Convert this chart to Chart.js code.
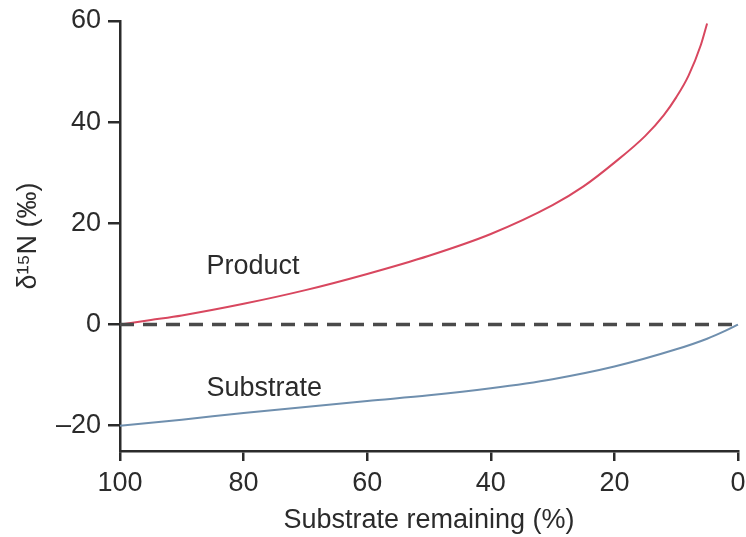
<!DOCTYPE html>
<html>
<head>
<meta charset="utf-8">
<script src="https://cdn.jsdelivr.net/npm/chart.js@4"></script>
<style>
  html, body { margin: 0; padding: 0; background: #fff; }
  #wrap { width: 746px; height: 537px; }
</style>
</head>
<body>
<div id="wrap"><canvas id="myChart"></canvas></div>
<script>
// data
const productX = [100, 95, 90, 80, 70, 60, 50, 40, 30, 25, 20, 15, 12, 10, 8, 6, 5];
const productY = [0, 0.9, 1.8, 4.1, 6.8, 10, 13.6, 17.9, 23.6, 27.3, 32, 37.3, 41.4, 44.9, 49.2, 55.3, 59.5];
const substrateX = [100, 90, 80, 70, 60, 50, 40, 30, 20, 10, 5, 2, 0];
const substrateY = [-20, -18.8, -17.5, -16.3, -15.1, -14, -12.6, -10.8, -8.3, -4.9, -2.8, -1.2, 0];
const baselineX = [100, 0];
const baselineY = [0, 0];
const xTicks = [100, 80, 60, 40, 20, 0];
const yTicks = [-20, 0, 20, 40, 60];
const curveLabels = ['Product', 'Substrate'];
const curveLabelX = [86, 86];
const curveLabelY = [10, -14.2];

const FONT = 'Liberation Sans, Arial, Helvetica, sans-serif';
const INK = '#2b2b2b';

function pts(xs, ys) {
  return xs.map((x, i) => ({ x: x, y: ys[i] }));
}

// plain text labels next to the curves
const curveText = {
  id: 'curveText',
  afterDatasetsDraw(chart) {
    const c = chart.ctx;
    c.save();
    c.font = '27px ' + FONT;
    c.fillStyle = INK;
    c.textAlign = 'left';
    c.textBaseline = 'alphabetic';
    curveLabels.forEach((t, i) => {
      c.fillText(t, chart.scales.x.getPixelForValue(curveLabelX[i]), chart.scales.y.getPixelForValue(curveLabelY[i]));
    });
    c.restore();
  }
};

const ctx = document.getElementById('myChart');
const myChart = new Chart(ctx, {
  type: 'scatter',
  data: {
    datasets: [
      {
        label: 'baseline',
        data: pts(baselineX, baselineY),
        showLine: true,
        borderColor: '#4a4a4a',
        borderWidth: 3.5,
        borderDash: [14, 9],
        pointRadius: 0,
        clip: false
      },
      {
        label: 'Product',
        data: pts(productX, productY),
        showLine: true,
        borderColor: '#d8475f',
        borderWidth: 2,
        pointRadius: 0,
        cubicInterpolationMode: 'monotone',
        clip: false
      },
      {
        label: 'Substrate',
        data: pts(substrateX, substrateY),
        showLine: true,
        borderColor: '#6f8fae',
        borderWidth: 2,
        pointRadius: 0,
        cubicInterpolationMode: 'monotone',
        clip: false
      }
    ]
  },
  options: {
    responsive: true,
    maintainAspectRatio: false,
    animation: false,
    layout: { padding: { top: 21, right: 8, left: 0, bottom: 0 } },
    plugins: {
      legend: { display: false },
      tooltip: { enabled: false }
    },
    scales: {
      x: {
        type: 'linear',
        reverse: true,
        min: 0,
        max: 100,
        afterBuildTicks: (axis) => { axis.ticks = xTicks.map(v => ({ value: v })); },
        afterFit: (axis) => { axis.height = 86; axis.paddingLeft = 0; axis.paddingRight = 0; },
        border: { display: true, color: INK, width: 2.5 },
        grid: { drawOnChartArea: false, drawTicks: true, tickLength: 10, color: INK, lineWidth: 2.5 },
        ticks: { color: INK, padding: 6, font: { family: FONT, size: 27 } },
        title: {
          display: true,
          text: 'Substrate remaining (%)',
          color: INK,
          font: { family: FONT, size: 27 },
          padding: { top: 8, bottom: 0 }
        }
      },
      y: {
        type: 'linear',
        min: -25,
        max: 60,
        afterBuildTicks: (axis) => { axis.ticks = yTicks.map(v => ({ value: v })); },
        afterFit: (axis) => { axis.width = 120; axis.paddingTop = 0; axis.paddingBottom = 0; },
        border: { display: true, color: INK, width: 2.5 },
        grid: { drawOnChartArea: false, drawTicks: true, tickLength: 12, color: INK, lineWidth: 2.5 },
        ticks: {
          color: INK,
          padding: 7,
          font: { family: FONT, size: 27 },
          callback: (v) => String(v).replace('-', '\u2013')
        },
        title: {
          display: true,
          text: 'δ¹⁵N (‰)',
          color: INK,
          font: { family: FONT, size: 27 },
          padding: { top: 12, bottom: 0 }
        }
      }
    }
  },
  plugins: [curveText]
});
</script>
</body>
</html>
